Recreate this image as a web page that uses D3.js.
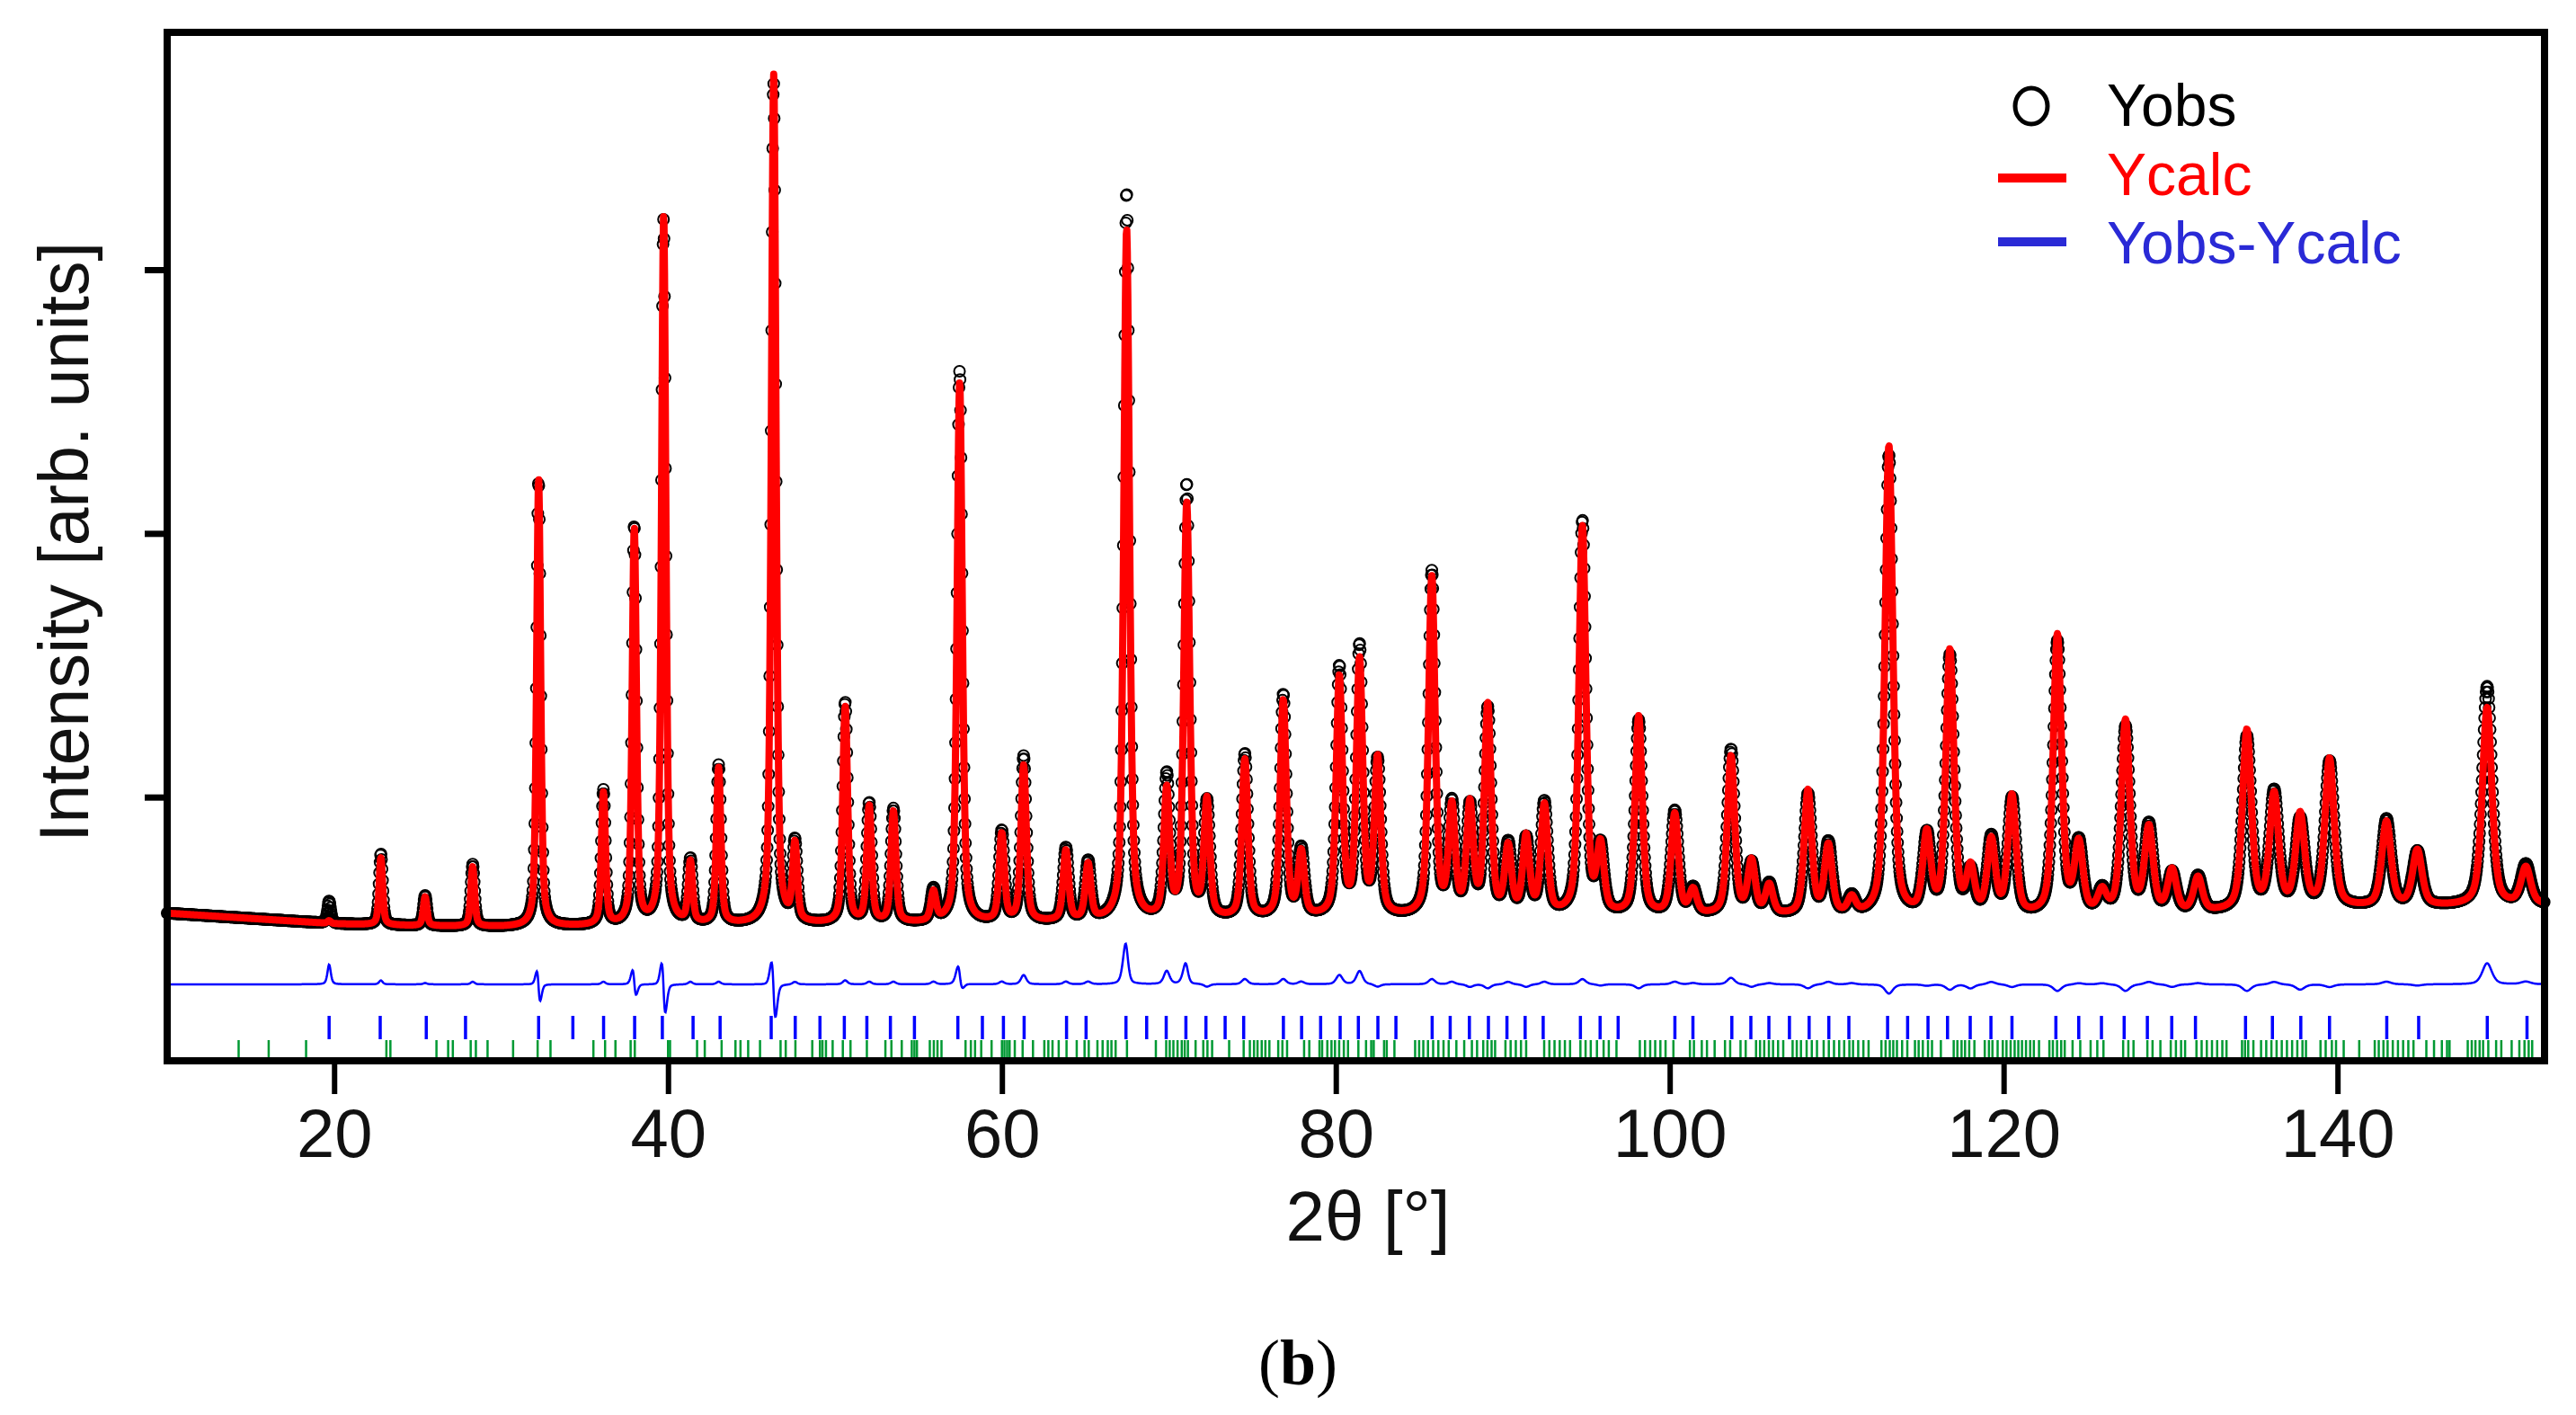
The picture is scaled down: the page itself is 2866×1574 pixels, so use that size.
<!DOCTYPE html>
<meta charset="utf-8" />
<script src="https://d3js.org/d3.v7.min.js"></script>
<style>
  body { margin: 0; background: #fff; }
  text { font-family: "Liberation Sans", Arial, sans-serif; }
</style>
<body>
<div id="chart"></div>
<script>
  // reflections: 2theta, calc and obs heights above background
  const peakPos = [
    19.7, 22.8, 25.45, 28.3, 32.25, 36.13, 37.98, 39.74, 41.34, 43.03,
    46.33, 47.6, 50.61, 52.05, 53.5, 55.9, 57.47, 59.99, 61.3, 63.83,
    65.16, 67.47, 69.87, 71.07, 72.28, 74.55, 76.85, 77.93, 80.21, 81.42,
    82.5, 85.75, 86.95, 88.03, 89.1, 90.32, 91.4, 92.49, 94.77, 95.85,
    98.14, 100.3, 101.4, 103.67, 104.9, 105.96, 108.28, 109.5, 110.9, 113.13,
    115.4, 116.78, 118.02, 119.26, 120.5, 123.22, 124.5, 125.9, 127.3, 128.7,
    130.09, 131.64, 134.57, 136.2, 137.76, 139.52, 142.93, 144.78, 148.96, 151.28
  ];
  const calcHeight = [
    10, 255, 110, 225, 1700, 500, 1500, 2690, 230, 590,
    3220, 290, 820, 440, 420, 110, 2050, 330, 590, 265,
    210, 2620, 480, 1570, 440, 600, 820, 240, 900, 960,
    590, 1280, 400, 410, 790, 250, 290, 410, 1470, 250,
    750, 380, 90, 600, 200, 110, 470, 260, 60, 1780,
    300, 1000, 170, 280, 450, 1060, 260, 80, 730, 320,
    160, 130, 680, 430, 350, 560, 320, 210, 750, 140
  ];
  const obsHeight = [
    85, 270, 115, 235, 1690, 510, 1510, 2670, 240, 600,
    3190, 300, 835, 450, 430, 120, 2090, 340, 625, 275,
    220, 2760, 530, 1640, 430, 620, 840, 250, 935, 1010,
    580, 1300, 410, 400, 775, 260, 280, 420, 1490, 245,
    735, 390, 95, 625, 190, 115, 455, 270, 65, 1745,
    295, 980, 155, 290, 440, 1035, 265, 85, 705, 330,
    150, 135, 655, 440, 330, 550, 330, 205, 830, 150
  ];
  const obsShift = [
    0, 0, 0, 0, -0.007, 0, -0.007, -0.008, 0, 0,
    -0.008, 0, 0, 0, 0, 0, -0.005, 0, 0, 0,
    0, -0.004, 0, -0.004, 0, 0, 0, 0, 0, 0,
    0, 0, 0, 0, 0, 0, 0, 0, 0, 0,
    0, 0, 0, 0, 0, 0, 0, 0, 0, 0,
    0, 0, 0, 0, 0, 0, 0, 0, 0, 0,
    0, 0, 0, 0, 0, 0, 0, 0, 0, 0
  ];

  // background points
  const bgPos = [10, 15, 20, 25, 30, 35, 40, 50, 60, 70, 80, 90, 100, 110, 120, 130, 140, 152.4];
  const bgLevel = [560, 540, 520, 512, 508, 510, 512, 518, 522, 530, 540, 545, 548, 545, 540, 552, 578, 590];

  // reflection markers
  const phase1Ticks = [
    19.70, 22.76, 25.52, 27.87, 32.25, 34.30, 36.14, 38.0, 39.66, 41.50, 43.12, 46.18,
    47.62, 49.1, 50.56, 51.91, 53.32, 54.76, 57.36, 58.83, 60.09, 61.33, 63.87, 65.04,
    67.43, 68.67, 69.84, 71.02, 72.22, 73.37, 74.48, 76.86, 77.95, 79.09, 80.26, 81.35,
    82.52, 83.6, 85.77, 86.85, 88.0, 89.14, 90.25, 91.34, 92.42, 94.65, 95.83, 96.91,
    100.31, 101.39, 103.72, 104.86, 105.94, 107.17, 108.35, 109.53, 110.73, 113.05,
    114.25, 115.47, 116.64, 118.0, 119.24, 120.5, 123.13, 124.5, 125.86, 127.22,
    128.61, 130.07, 131.49, 134.49, 136.1, 137.8, 139.52, 142.95, 144.86, 148.97, 151.35
  ];
  const phase2Ticks = [
    14.28, 16.08, 18.32, 23.13, 23.37, 26.13, 26.83, 27.11, 28.18, 28.49, 29.19, 30.72,
    32.19, 32.96, 35.53, 36.23, 36.85, 37.76, 38.01, 40.0, 40.12, 41.74, 42.2, 43.21,
    44.04, 44.34, 44.8, 45.51, 46.74, 47.05, 47.63, 48.64, 49.1, 49.25, 49.46, 49.86,
    50.47, 50.93, 51.91, 53.02, 53.38, 54.0, 54.6, 54.76, 54.91, 55.68, 55.92, 56.14,
    56.38, 57.82, 58.14, 58.39, 58.76, 59.38, 60.0, 60.15, 60.31, 60.46, 60.77, 61.24,
    61.86, 62.54, 62.78, 63.03, 63.4, 63.87, 64.48, 64.95, 65.2, 65.72, 66.03, 66.34,
    66.56, 66.81, 67.49, 69.22, 69.84, 70.05, 70.27, 70.52, 70.77, 70.95, 71.14, 71.6,
    72.06, 72.31, 72.59, 73.61, 74.48, 74.85, 75.1, 75.31, 75.56, 75.78, 76.02, 76.55,
    76.8, 77.08, 78.1, 78.41, 79.02, 79.18, 79.49, 79.74, 79.95, 80.2, 80.48, 80.73,
    81.35, 81.81, 82.12, 82.27, 82.89, 83.05, 83.51, 84.75, 84.99, 85.24, 85.52, 85.83,
    86.14, 86.45, 86.76, 87.22, 87.69, 88.15, 88.46, 88.83, 89.08, 89.33, 89.54, 90.16,
    90.47, 90.78, 91.09, 91.4, 92.48, 92.79, 93.1, 93.41, 93.72, 94.03, 94.65, 94.96,
    95.27, 95.64, 96.04, 96.35, 96.81, 98.21, 98.52, 98.83, 99.13, 99.44, 99.75, 100.22,
    101.21, 101.45, 101.92, 102.23, 102.69, 103.31, 103.62, 104.24, 104.55, 105.17, 105.41,
    105.66, 105.94, 106.19, 106.49, 106.8, 107.36, 107.61, 107.86, 108.2, 108.51, 108.82,
    109.22, 109.53, 109.84, 110.15, 110.45, 110.76, 110.98, 111.29, 111.6, 111.91, 112.68,
    112.93, 113.18, 113.39, 113.61, 113.92, 114.23, 114.69, 114.91, 115.16, 115.47, 115.71,
    116.24, 117.01, 117.23, 117.48, 117.69, 117.94, 118.25, 118.87, 119.12, 119.33, 119.64,
    119.95, 120.17, 120.42, 120.66, 120.88, 121.1, 121.34, 121.59, 121.81, 122.12, 122.74,
    122.95, 123.2, 123.45, 123.66, 124.13, 124.59, 125.21, 125.61, 125.98, 127.16, 127.47,
    127.78, 128.61, 128.92, 129.39, 130.01, 130.32, 130.63, 130.87, 131.55, 131.86, 132.17,
    132.48, 132.79, 133.1, 133.35, 134.28, 134.46, 134.65, 134.96, 135.42, 135.73, 136.04,
    136.35, 136.66, 136.97, 137.28, 137.59, 137.9, 138.11, 138.98, 139.29, 139.66, 139.91,
    140.37, 141.3, 142.23, 142.47, 142.75, 143.0, 143.31, 143.62, 143.93, 144.24, 144.55,
    145.32, 145.78, 146.25, 146.56, 146.71, 147.8, 148.04, 148.26, 148.51, 148.72, 149.03,
    149.5, 149.81, 150.43, 150.89, 151.2, 151.45, 151.66
  ];

  const xTicks = [20, 40, 60, 80, 100, 120, 140];
  const yTicks = [1000, 2000, 3000];

  const W = 2866, H = 1574;
  const plot = { left: 186, right: 2831, top: 36, bottom: 1180 };

  const svg = d3.select("#chart").append("svg")
    .attr("width", W).attr("height", H)
    .style("display", "block");

  const x = d3.scaleLinear().domain([10, 152.4]).range([plot.left, plot.right]);
  const y = d3.scaleLinear().domain([0, 3900]).range([plot.bottom, plot.top]);
  const bg = d3.scaleLinear().domain(bgPos).range(bgLevel);

  // pseudo-Voigt profile, width grows with angle
  const eta = 0.5;
  function fwhm(t) { return 0.24 + 0.0034 * (t - 20); }
  function profile(t, heights, useShift) {
    let s = bg(t);
    for (let i = 0; i < peakPos.length; i++) {
      const p = peakPos[i] + (useShift ? obsShift[i] : 0);
      const w = fwhm(peakPos[i]);
      const d = (t - p) / w;
      if (Math.abs(d) > 40) continue;
      const d2 = d * d;
      s += heights[i] * (eta / (1 + 4 * d2) + (1 - eta) * Math.exp(-4 * Math.LN2 * d2));
    }
    return s;
  }

  const steps = d3.range(10.0, 152.4, 0.03);
  const pattern = steps.map(t => {
    const c = profile(t, calcHeight, false);
    const o = profile(t, obsHeight, true);
    return { t: t, calc: c, obs: o, diff: o - c + 290 };
  });

  // Yobs circles
  svg.append("g")
    .selectAll("circle")
    .data(pattern)
    .join("circle")
    .attr("cx", d => x(d.t))
    .attr("cy", d => y(d.obs))
    .attr("r", 6)
    .attr("fill", "none")
    .attr("stroke", "#000")
    .attr("stroke-width", 2);

  // Ycalc
  svg.append("path")
    .datum(pattern)
    .attr("fill", "none")
    .attr("stroke", "#ff0000")
    .attr("stroke-width", 8)
    .attr("stroke-linejoin", "round")
    .attr("d", d3.line().x(d => x(d.t)).y(d => y(d.calc)));

  // difference
  svg.append("path")
    .datum(pattern)
    .attr("fill", "none")
    .attr("stroke", "#0000ff")
    .attr("stroke-width", 2.5)
    .attr("d", d3.line().x(d => x(d.t)).y(d => y(d.diff)));

  // reflection markers
  svg.append("g")
    .selectAll("line")
    .data(phase1Ticks)
    .join("line")
    .attr("x1", d => x(d)).attr("x2", d => x(d))
    .attr("y1", 1130).attr("y2", 1156)
    .attr("stroke", "#0000ff")
    .attr("stroke-width", 3.5);

  svg.append("g")
    .selectAll("line")
    .data(phase2Ticks)
    .join("line")
    .attr("x1", d => x(d)).attr("x2", d => x(d))
    .attr("y1", 1157).attr("y2", 1178)
    .attr("stroke", "#009933")
    .attr("stroke-width", 2.5);

  // axes
  const xAxis = svg.append("g")
    .attr("transform", `translate(0,${plot.bottom})`)
    .call(d3.axisBottom(x).tickValues(xTicks).tickSize(37).tickFormat(d3.format("d")));
  xAxis.select(".domain").remove();
  xAxis.selectAll("line").attr("stroke", "#000").attr("stroke-width", 6);
  xAxis.selectAll("text")
    .attr("y", 107).attr("dy", 0)
    .attr("fill", "#111")
    .style("font-size", "76px")
    .style("font-family", "'Liberation Sans', Arial, sans-serif");

  const yAxis = svg.append("g")
    .attr("transform", `translate(${plot.left},0)`)
    .call(d3.axisLeft(y).tickValues(yTicks).tickSize(25).tickFormat(""));
  yAxis.select(".domain").remove();
  yAxis.selectAll("line").attr("stroke", "#000").attr("stroke-width", 7);

  // frame
  svg.append("rect")
    .attr("x", plot.left).attr("y", plot.top)
    .attr("width", plot.right - plot.left)
    .attr("height", plot.bottom - plot.top)
    .attr("fill", "none")
    .attr("stroke", "#000")
    .attr("stroke-width", 8);

  // axis titles
  svg.append("text")
    .attr("transform", "translate(98,603) rotate(-90)")
    .attr("text-anchor", "middle")
    .attr("fill", "#111")
    .style("font-size", "77px")
    .text("Intensity [arb. units]");

  svg.append("text")
    .attr("x", 1522).attr("y", 1380)
    .attr("text-anchor", "middle")
    .attr("fill", "#111")
    .style("font-size", "78px")
    .text("2θ [°]");

  const cap = svg.append("text")
    .attr("x", 1444).attr("y", 1540)
    .attr("text-anchor", "middle")
    .attr("fill", "#000")
    .style("font-family", "'Liberation Serif', 'Times New Roman', serif")
    .style("font-size", "72px");
  cap.append("tspan").text("(");
  cap.append("tspan").attr("font-weight", "bold").text("b");
  cap.append("tspan").text(")");

  // legend
  const leg = svg.append("g");
  leg.append("ellipse")
    .attr("cx", 2260).attr("cy", 118).attr("rx", 18).attr("ry", 20)
    .attr("fill", "none").attr("stroke", "#000").attr("stroke-width", 5);
  leg.append("text").attr("x", 2344).attr("y", 140)
    .attr("fill", "#000").style("font-size", "66px").text("Yobs");
  leg.append("line").attr("x1", 2223).attr("x2", 2299).attr("y1", 198).attr("y2", 198)
    .attr("stroke", "#ff0000").attr("stroke-width", 10);
  leg.append("text").attr("x", 2344).attr("y", 217)
    .attr("fill", "#ff0000").style("font-size", "66px").text("Ycalc");
  leg.append("line").attr("x1", 2223).attr("x2", 2299).attr("y1", 269).attr("y2", 269)
    .attr("stroke", "#2a2ad6").attr("stroke-width", 10);
  leg.append("text").attr("x", 2344).attr("y", 293)
    .attr("fill", "#2a2ad6").style("font-size", "66px").text("Yobs-Ycalc");
</script>
</body>
